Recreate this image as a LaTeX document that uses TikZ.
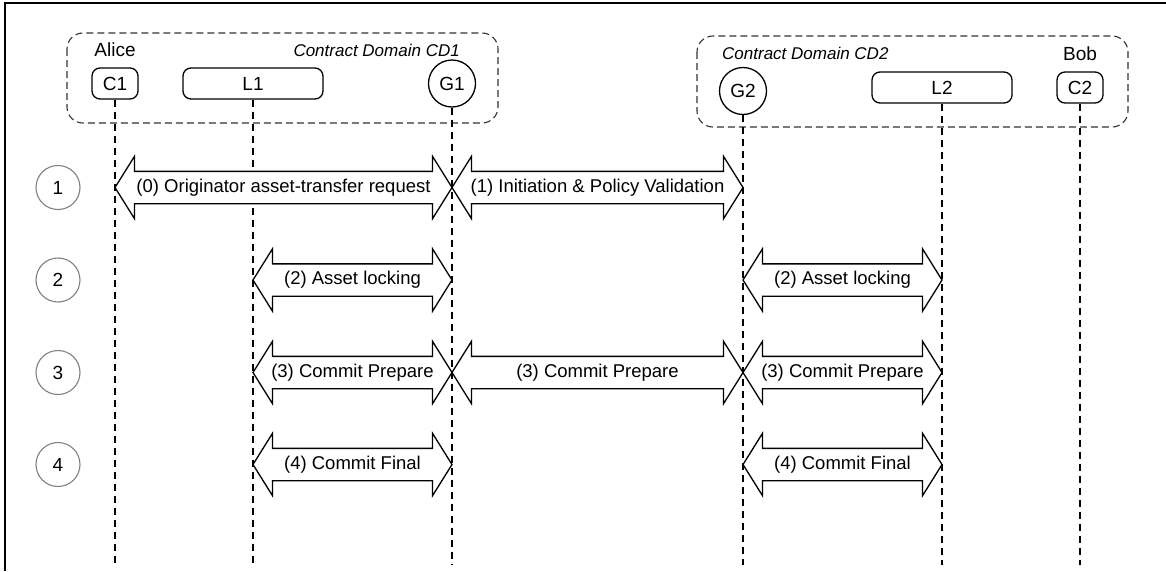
\documentclass[tikz,border=0pt]{standalone}
\usepackage{fontspec}
\setmainfont{Liberation Sans}
\usetikzlibrary{shapes.arrows, positioning, calc}
\tikzset{
    party/.style={rectangle, rounded corners=8pt, minimum height=31pt, inner sep=0pt, draw=black, line width=1.3pt},
    gateway/.style={circle, minimum size=47pt, inner sep=0pt, draw=black, line width=1.3pt},
    who/.style={inner sep=0pt, font=\fontsize{19}{21}\selectfont},
    domainlabel/.style={inner sep=0pt, font=\fontsize{17}{19}\selectfont\itshape},
    domainbox/.style={draw=black!80, dash pattern=on 7pt off 4pt, line width=1.1pt, rounded corners=16pt},
    lifeline/.style={dash pattern=on 7pt off 5pt, line width=1.2pt},
    stepnum/.style={circle, minimum size=44pt, inner sep=0pt, draw=black!50, line width=1.1pt},
    msg/.style={double arrow, draw=black, fill=white, line width=1.3pt, minimum width=61pt,
        double arrow head extend=15pt, double arrow tip angle=116, inner xsep=0pt, inner ysep=7pt,
        text height=13pt, text depth=4pt, font=\fontsize{18.5}{20}\selectfont},
}
% block arrow between two lifelines: from, to, row, name, text
\newcommand{\msgarrow}[5]{%
  \path let \p1=(#1), \p2=(#2), \p3=(#3) in
    node[msg, minimum height={\x2-\x1}] (#4) at ({(\x1+\x2)/2}, \y3) {#5};}

\begin{document}
\begin{tikzpicture}[x=1pt, y=-1pt, font=\fontsize{19}{21}\selectfont]
  \useasboundingbox (0,0) rectangle (1166,571);
  \draw[line width=2pt] (5,571) -- (5,3) -- (1166,3);

  % contract domains
  \draw[domainbox] (67,33) rectangle (498,123);
  \draw[domainbox] (697,36) rectangle (1128,127);

  % participants
  \node[party, minimum width=46pt]  (C1) at (115,83.5) {C1};
  \node[party, minimum width=140pt] (L1) at (253,83.5) {L1};
  \node[gateway]                    (G1) at (452,83.5) {G1};
  \node[gateway]                    (G2) at (743,91)   {G2};
  \node[party, minimum width=140pt] (L2) at (942,87.5) {L2};
  \node[party, minimum width=46pt]  (C2) at (1080,87.5) {C2};

  \node[who, above=10pt of C1] (alice) {Alice};
  \node[who, above=10pt of C2] (bob) {Bob};
  \node[domainlabel, anchor=base east] (cd1) at (460,56) {Contract Domain CD1};
  \node[domainlabel, anchor=base west] (cd2) at (722,59) {Contract Domain CD2};

  % lifelines
  \coordinate (bottom) at (0,565);
  \foreach \p in {C1,L1,G1,G2,L2,C2}
    \draw[lifeline] (\p.south) -- (\p |- bottom);

  % steps
  \node[stepnum] (s1) at (58,187.5) {1};
  \node[stepnum] (s2) at (58,280)   {2};
  \node[stepnum] (s3) at (58,372.5) {3};
  \node[stepnum] (s4) at (58,464.5) {4};

  % messages
  \msgarrow{C1}{G1}{s1}{m0}{(0) Originator asset-transfer request}
  \msgarrow{G1}{G2}{s1}{m1}{(1) Initiation \& Policy Validation}
  \msgarrow{L1}{G1}{s2}{m2a}{(2) Asset locking}
  \msgarrow{G2}{L2}{s2}{m2b}{(2) Asset locking}
  \msgarrow{L1}{G1}{s3}{m3a}{(3) Commit Prepare}
  \msgarrow{G1}{G2}{s3}{m3b}{(3) Commit Prepare}
  \msgarrow{G2}{L2}{s3}{m3c}{(3) Commit Prepare}
  \msgarrow{L1}{G1}{s4}{m4a}{(4) Commit Final}
  \msgarrow{G2}{L2}{s4}{m4b}{(4) Commit Final}
\end{tikzpicture}
\end{document}
